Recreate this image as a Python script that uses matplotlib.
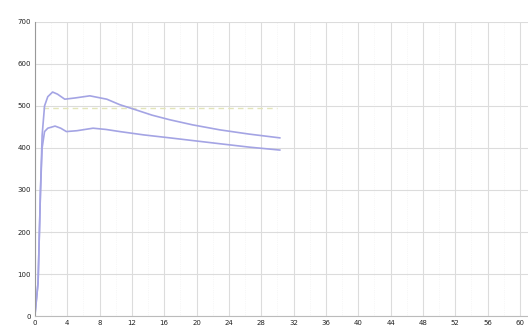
import matplotlib.pyplot as plt
import numpy as np
from matplotlib.ticker import MultipleLocator

# time (x) and the two measured curves
t_upper = [0.0, 0.4, 0.7, 0.9, 1.2, 1.6, 2.2, 2.8, 3.7, 5.0, 6.8, 8.9, 10.5, 12.6, 14.5, 16.7, 19.5, 22.9, 26.5, 30.3]
v_upper = [0, 80, 300, 430, 500, 522, 533, 528, 516, 519, 524, 516, 503, 490, 478, 467, 455, 443, 433, 424]

t_lower = [0.0, 0.4, 0.7, 0.9, 1.2, 1.6, 2.5, 3.2, 3.9, 5.2, 7.2, 8.8, 10.5, 13.5, 16.7, 19.8, 22.9, 26.5, 30.3]
v_lower = [0, 80, 300, 400, 439, 447, 452, 447, 439, 441, 447, 444, 439, 431, 424, 417, 410, 402, 395]

# faint reference level
t_ref = [1.0, 30.0]
v_ref = [496, 496]

xticks = np.arange(0, 61, 4)
yticks = np.arange(0, 701, 100)

fig = plt.figure(figsize=(5.28, 3.31), dpi=100)
ax = fig.add_axes([0.066, 0.045, 0.934, 0.889])

ax.plot(t_ref, v_ref, color='#e2e4b8', lw=1.0, ls=(0, (4, 3)))
ax.plot(t_upper, v_upper, color='#a4a4e4', lw=1.2)
ax.plot(t_lower, v_lower, color='#a4a4e4', lw=1.2)

ax.set_xlim(0, 61)
ax.set_ylim(0, 700)
ax.set_xticks(xticks)
ax.set_yticks(yticks)
ax.xaxis.set_minor_locator(MultipleLocator(2))
ax.grid(True, which='major', color='#dcdcdc', lw=0.8)
ax.grid(True, which='minor', axis='x', color='#f0f0f0', lw=0.5, ls=':')
ax.set_axisbelow(True)

ax.tick_params(labelsize=5, length=0, pad=3, colors='#222222')
ax.tick_params(which='minor', length=0)
for s in ['top', 'right']:
    ax.spines[s].set_visible(False)
ax.spines['left'].set_color('#999999')
ax.spines['bottom'].set_color('#bbbbbb')
ax.spines['left'].set_linewidth(0.8)
ax.spines['bottom'].set_linewidth(0.8)

fig.savefig('out.png', dpi=100)
